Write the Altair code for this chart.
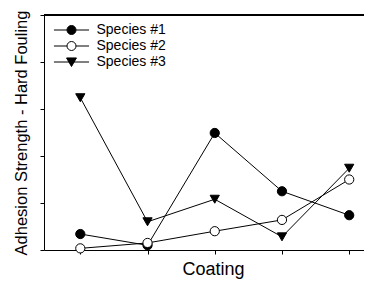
import altair as alt
import pandas as pd

coatings = [1, 2, 3, 4, 5]
species = ["Species #1", "Species #2", "Species #3"]
species1 = [0.34, 0.10, 2.49, 1.25, 0.74]
species2 = [0.035, 0.15, 0.40, 0.64, 1.50]
species3 = [3.24, 0.60, 1.08, 0.28, 1.74]
y_ticks = [0, 1, 2, 3, 4, 5]

rows = []
for name, vals in zip(species, [species1, species2, species3]):
    for c, v in zip(coatings, vals):
        rows.append({"coating": c, "value": v, "species": name})
df = pd.DataFrame(rows)

FONT = "Liberation Sans"

xscale = alt.Scale(domain=[0.46, 5.22], nice=False, zero=False)
yscale = alt.Scale(domain=[0, 5], nice=False)

x_enc = alt.X(
    "coating:Q", scale=xscale,
    axis=alt.Axis(values=coatings, labels=False, grid=False, tickSize=4,
                  domainColor="black", tickColor="black", title="Coating",
                  titleFontSize=18, titleFont=FONT, titleFontWeight="normal",
                  titleColor="black", titlePadding=6, titleX=169),
)
y_enc = alt.Y(
    "value:Q", scale=yscale,
    axis=alt.Axis(values=y_ticks, labels=False, grid=False, tickSize=4,
                  domainColor="black", tickColor="black",
                  title="Adhesion Strength - Hard Fouling",
                  titleFontSize=16.5, titleFont=FONT, titleFontWeight="normal",
                  titleColor="black", titlePadding=10),
)

gap_line = "M-3.9,0H-1M1,0H3.9"
circle_path = gap_line + "M-1,0A1,1 0 1,0 1,0A1,1 0 1,0 -1,0Z"
tri_path = "M-3.9,0H3.9M-1.1,-0.9H1.1L0,1Z"

leg = alt.Legend(
    title=None, orient="none", legendX=20.5, legendY=8, symbolSize=81,
    labelFont=FONT, labelFontSize=14, labelColor="black", labelOffset=18,
    rowPadding=2, symbolStrokeWidth=1, padding=0, symbolOpacity=1,
)

lines = alt.Chart(df).mark_line(color="black", strokeWidth=1).encode(
    x=x_enc, y=y_enc, detail="species:N"
)
points = alt.Chart(df).mark_point(size=85, opacity=1, stroke="black", strokeWidth=1).encode(
    x=x_enc, y=y_enc,
    shape=alt.Shape("species:N", scale=alt.Scale(domain=species, range=["circle", "circle", "triangle-down"]), legend=None),
    fill=alt.Fill("species:N", scale=alt.Scale(domain=species, range=["black", "white", "black"]), legend=None),
)
legend_layer = alt.Chart(df).transform_filter("false").mark_point(
    size=81, opacity=1, strokeWidth=1
).encode(
    x=x_enc, y=y_enc,
    shape=alt.Shape("species:N", scale=alt.Scale(domain=species, range=[circle_path, circle_path, tri_path]), legend=leg),
    fill=alt.Fill("species:N", scale=alt.Scale(domain=species, range=["black", "white", "black"]), legend=leg),
    stroke=alt.Stroke("species:N", scale=alt.Scale(domain=species, range=["black", "black", "black"]), legend=leg),
)
top = alt.Chart(df).mark_rule(color="black", strokeWidth=1).encode(y=alt.datum(5))

chart = alt.layer(lines, points, legend_layer, top).resolve_scale(
    shape="independent", fill="independent", stroke="independent"
).properties(
    width=320, height=235,
    padding={"left": 36, "top": 7, "right": 0, "bottom": 31},
    autosize=alt.AutoSizeParams(type="none"),
).configure_view(stroke=None)

chart.save("out.html", embed_options={"renderer": "svg", "actions": False})
